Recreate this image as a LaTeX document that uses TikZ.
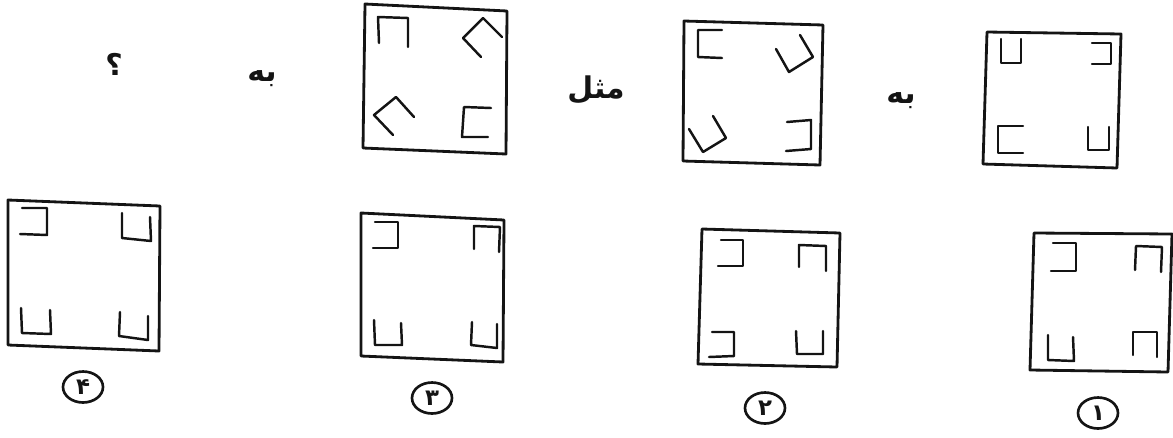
\documentclass[tikz,border=0pt]{standalone}
\usepackage{fontspec}
\usepackage{tikz}
\usetikzlibrary{positioning, calc, shapes.geometric}
\TeXXeTstate=1
\newfontfamily\arabicfont[Script=Arabic]{DejaVu Sans}
\definecolor{inkblack}{RGB}{20, 20, 20}

\tikzset{
    frame/.style={draw=inkblack, line width=1.6pt, line join=round},
    bracket/.style={draw=inkblack, line width=1.4pt, line cap=round, line join=round},
    numring/.style={draw=inkblack, line width=1.5pt, ellipse, minimum width=0.8cm, minimum height=0.62cm, inner sep=0pt,
        font=\arabicfont\bfseries\fontsize{13}{14}\selectfont, text=inkblack},
    word/.style={font=\arabicfont\bfseries\fontsize{17}{20}\selectfont, text=inkblack, inner sep=0pt}
}

\begin{document}
\begin{tikzpicture}[x=0.02cm, y=-0.02cm]
    \useasboundingbox (0,0) rectangle (1173,437);

    % top row: words
    \node[word] (qmark) at (114,64) {\beginR ؟\endR};
    \node[word] (beleft) at (262,79) {\beginR به\endR};
    \node[word] (mesl) at (596,90) {\beginR مثل\endR};
    \node[word] (beright) at (901,101) {\beginR به\endR};

    % top row: first figure
    \draw[frame] (987,32) -- (1121,34) -- (1117,168) -- (983,164) -- cycle;
    \draw[bracket] (1001,39) -- (1001,63) -- (1021,63) -- (1021,39);
    \draw[bracket] (1092,43) -- (1111,43) -- (1111,64) -- (1092,64);
    \draw[bracket] (1023,126) -- (998,126) -- (998,153) -- (1023,153);
    \draw[bracket] (1088,127) -- (1088,150) -- (1109,150) -- (1109,127);

    % top row: second figure
    \draw[frame] (684,21) -- (823,25) -- (820,165) -- (683,161) -- cycle;
    \draw[bracket] (722,30) -- (698,30) -- (698,57) -- (722,58);
    \draw[bracket] (776,49) -- (789,72) -- (813,57) -- (800,35);
    \draw[bracket] (689,129) -- (703,152) -- (726,138) -- (713,116);
    \draw[bracket] (787,122) -- (811,120) -- (811,149) -- (786,151);

    % top row: third figure
    \draw[frame] (365,4) -- (507,11) -- (506,154) -- (363,148) -- cycle;
    \draw[bracket] (379,43) -- (378,17) -- (408,18) -- (408,47);
    \draw[bracket] (502,37) -- (483,18) -- (463,38) -- (481,57);
    \draw[bracket] (414,117) -- (396,97) -- (374,115) -- (393,135);
    \draw[bracket] (491,108) -- (464,107) -- (462,137) -- (488,137);

    % bottom row: option 1
    \draw[frame] (1034,233) -- (1172,234) -- (1168,372) -- (1030,370) -- cycle;
    \draw[bracket] (1053,243) -- (1076,243) -- (1076,271) -- (1051,271);
    \draw[bracket] (1135,270) -- (1136,246) -- (1162,247) -- (1161,272);
    \draw[bracket] (1048,335) -- (1048,360) -- (1074,361) -- (1073,337);
    \draw[bracket] (1133,355) -- (1133,332) -- (1157,332) -- (1157,357);
    \node[numring] (opt1) at (1098,413) {۱};

    % bottom row: option 2
    \draw[frame] (702,229) -- (840,233) -- (837,367) -- (698,364) -- cycle;
    \draw[bracket] (721,240) -- (743,240) -- (743,266) -- (718,266);
    \draw[bracket] (799,267) -- (799,245) -- (826,246) -- (826,271);
    \draw[bracket] (712,332) -- (734,332) -- (734,356) -- (709,357);
    \draw[bracket] (796,331) -- (797,354) -- (823,354) -- (823,331);
    \node[numring] (opt2) at (765,408) {۲};

    % bottom row: option 3
    \draw[frame] (361,213) -- (504,220) -- (503,362) -- (361,356) -- cycle;
    \draw[bracket] (375,222) -- (398,222) -- (398,248) -- (373,248);
    \draw[bracket] (474,249) -- (474,226) -- (500,227) -- (499,252);
    \draw[bracket] (374,320) -- (375,345) -- (402,345) -- (401,323);
    \draw[bracket] (472,322) -- (471,345) -- (497,348) -- (497,324);
    \node[numring] (opt3) at (432,398) {۳};

    % bottom row: option 4
    \draw[frame] (8,200) -- (160,206) -- (159,351) -- (8,345) -- cycle;
    \draw[bracket] (22,208) -- (47,208) -- (47,235) -- (20,234);
    \draw[bracket] (122,213) -- (122,238) -- (151,241) -- (150,217);
    \draw[bracket] (21,308) -- (22,333) -- (51,334) -- (50,310);
    \draw[bracket] (120,312) -- (119,336) -- (148,340) -- (148,316);
    \node[numring] (opt4) at (83,387) {۴};
\end{tikzpicture}
\end{document}
